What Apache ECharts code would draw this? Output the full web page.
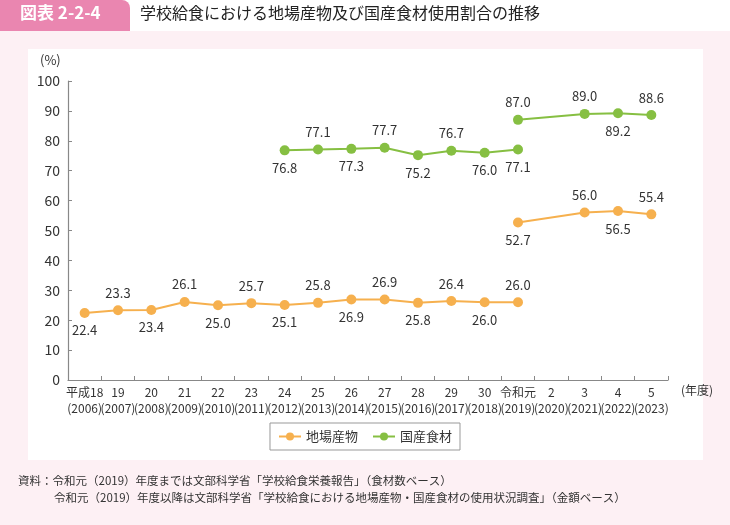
<!DOCTYPE html>
<html>
<head>
<meta charset="utf-8">
<script src="https://cdn.jsdelivr.net/npm/echarts@6/dist/echarts.min.js"></script>
<style>
  html, body { margin: 0; padding: 0; background: #fff; }
  #chart { width: 730px; height: 525px; }
</style>
</head>
<body>
<div id="chart"></div>
<script>
// 年度ラベル（和暦・西暦）
const eraLabels = ['平成18', '19', '20', '21', '22', '23', '24', '25', '26', '27', '28', '29', '30', '令和元', '2', '3', '4', '5'];
const yearLabels = ['2006', '2007', '2008', '2009', '2010', '2011', '2012', '2013', '2014', '2015', '2016', '2017', '2018', '2019', '2020', '2021', '2022', '2023'];

// 食材数ベース（〜令和元年度）
const jibaOld = [22.4, 23.3, 23.4, 26.1, 25.0, 25.7, 25.1, 25.8, 26.9, 26.9, 25.8, 26.4, 26.0, 26.0, null, null, null, null];
const kokusanOld = [null, null, null, null, null, null, 76.8, 77.1, 77.3, 77.7, 75.2, 76.7, 76.0, 77.1, null, null, null, null];
// 金額ベース（令和元年度〜）
const jibaNew = [null, null, null, null, null, null, null, null, null, null, null, null, null, 52.7, null, 56.0, 56.5, 55.4];
const kokusanNew = [null, null, null, null, null, null, null, null, null, null, null, null, null, 87.0, null, 89.0, 89.2, 88.6];

const yTicks = [0, 10, 20, 30, 40, 50, 60, 70, 80, 90, 100];

const ORANGE = '#f6b04e';
const GREEN = '#86bf42';
const FONT = '"Noto Sans CJK JP", "Noto Sans", sans-serif';
const NARROW = '"Liberation Sans Narrow", "Noto Sans CJK JP", sans-serif';

const categories = eraLabels.map((e, i) => '{e|' + e + '}\n{y|(' + yearLabels[i] + ')}');

// which points put their label under the marker
const belowJibaOld = [0, 2, 4, 6, 8, 10, 12];
const belowKokusanOld = [6, 8, 10, 12, 13];
const belowJibaNew = [13, 16];
const belowKokusanNew = [16];

function toData(arr, below) {
  return arr.map((v, i) => v == null ? null : {
    value: v,
    label: { position: below.includes(i) ? 'bottom' : 'top' }
  });
}

function lineSeries(name, arr, below, color) {
  return {
    name: name,
    type: 'line',
    data: toData(arr, below),
    connectNulls: true,
    symbol: 'circle',
    symbolSize: 10,
    lineStyle: { color: color, width: 2 },
    itemStyle: { color: color },
    label: {
      show: true,
      distance: 6,
      color: '#333',
      fontSize: 13,
      fontFamily: FONT,
      formatter: p => p.value.toFixed(1)
    },
    emphasis: { disabled: true },
    animation: false
  };
}

const chart = echarts.init(document.getElementById('chart'));
chart.setOption({
  backgroundColor: '#fff',
  textStyle: { fontFamily: FONT },
  graphic: [
    { type: 'rect', z: -10, shape: { x: 0, y: 31, width: 730, height: 494 }, style: { fill: '#fdf0f4' } },
    { type: 'rect', z: -9, shape: { x: 28, y: 49, width: 675, height: 411 }, style: { fill: '#ffffff' } },
    { type: 'rect', z: -8, shape: { x: 0, y: 0, width: 130, height: 31, r: [0, 8, 0, 0] }, style: { fill: '#ea86b0' } },
    { type: 'text', left: 20, top: 4, style: { text: '図表 2-2-4', fill: '#fff', font: 'bold 17px ' + FONT } },
    { type: 'text', left: 140, top: 5, style: { text: '学校給食における地場産物及び国産食材使用割合の推移', fill: '#222', font: '16px ' + FONT } },
    { type: 'text', left: 40, top: 54, style: { text: '(%)', fill: '#333', font: '13px ' + FONT } },
    { type: 'text', left: 681, top: 384, style: { text: '(年度)', fill: '#333', font: '12px ' + FONT } },
    { type: 'text', left: 18, top: 475, style: { text: '資料：令和元（2019）年度までは文部科学省「学校給食栄養報告」（食材数ベース）', fill: '#333', font: '11.5px ' + FONT } },
    { type: 'text', left: 54, top: 492, style: { text: '令和元（2019）年度以降は文部科学省「学校給食における地場産物・国産食材の使用状況調査」（金額ベース）', fill: '#333', font: '11.5px ' + FONT } }
  ],
  legend: {
    data: ['地場産物', '国産食材'],
    left: 'center',
    top: 423,
    itemWidth: 22,
    itemHeight: 10,
    itemGap: 14,
    itemStyle: { borderWidth: 0 },
    padding: [7, 8],
    borderColor: '#999',
    borderWidth: 1,
    textStyle: { fontSize: 13, color: '#333', fontFamily: FONT }
  },
  grid: { left: 68, right: 62, top: 81, bottom: 145 },
  xAxis: {
    type: 'category',
    data: categories,
    boundaryGap: true,
    axisLine: { lineStyle: { color: '#888', width: 1.2 } },
    axisTick: { show: true, inside: true, length: 4, lineStyle: { color: '#888' } },
    axisLabel: {
      color: '#333', margin: 4, interval: 0, fontFamily: FONT,
      rich: {
        e: { fontSize: 12, lineHeight: 16, color: '#333', fontFamily: FONT },
        y: { fontSize: 12, lineHeight: 17, color: '#333', fontFamily: NARROW }
      }
    }
  },
  yAxis: {
    type: 'value',
    min: yTicks[0],
    max: yTicks[yTicks.length - 1],
    interval: 10,
    splitLine: { show: false },
    axisLine: { show: true, lineStyle: { color: '#888', width: 1.2 } },
    axisTick: { show: true, inside: true, length: 4, lineStyle: { color: '#888' } },
    axisLabel: { color: '#333', fontSize: 14, margin: 8, fontFamily: FONT }
  },
  series: [
    lineSeries('地場産物', jibaOld, belowJibaOld, ORANGE),
    lineSeries('国産食材', kokusanOld, belowKokusanOld, GREEN),
    lineSeries('地場産物', jibaNew, belowJibaNew, ORANGE),
    lineSeries('国産食材', kokusanNew, belowKokusanNew, GREEN)
  ]
});
</script>
</body>
</html>
